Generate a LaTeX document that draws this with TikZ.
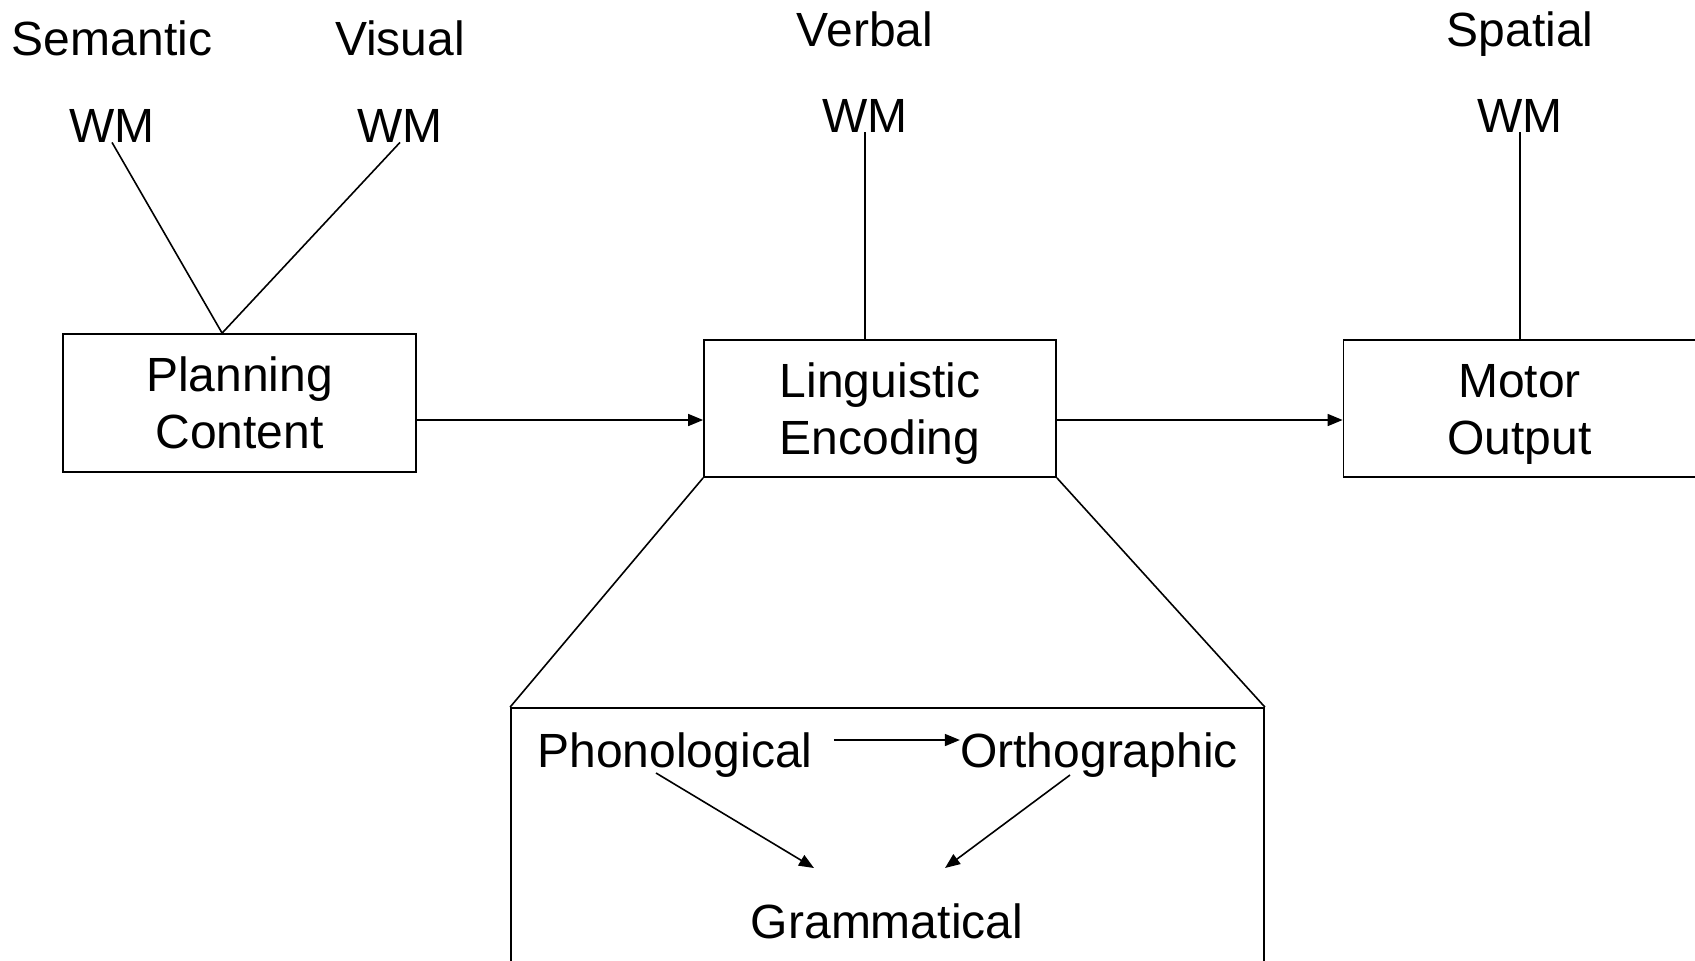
\documentclass[tikz,border=0pt]{standalone}
\usepackage{fontspec}
\setmainfont{Liberation Sans}
\usetikzlibrary{arrows.meta,calc}
\newcommand{\topgap}{\rule{0pt}{22pt}}
\begin{document}
\begin{tikzpicture}[x=0.5pt,y=-0.5pt,
  every node/.style={font=\fontsize{24}{28.5}\selectfont},
  lbl/.style={inner sep=0pt, anchor=base},
  box/.style={draw, line width=0.9pt, align=center, inner sep=0pt},
  conn/.style={line width=0.8pt},
  arr/.style={conn, -{Triangle[length=7.5pt,width=6pt]}}]
\useasboundingbox (0,0) rectangle (1695,960);
% labels
\node[lbl] (sem) at (112,55) {Semantic};
\node[lbl] (vis) at (400,55) {Visual};
\node[lbl] (swm) at (112,142) {WM};
\node[lbl] (viswm) at (400,142) {WM};
\node[lbl] (verb) at (865,46) {Verbal};
\node[lbl] (vwm) at (865,132) {WM};
\node[lbl] (spa) at (1520,46) {Spatial};
\node[lbl] (spwm) at (1520,132) {WM};
% boxes
\node[box, minimum width=176.5pt, minimum height=69pt] (plan) at (239.5,403) {Planning\\Content};
\node[box, minimum width=176pt, minimum height=68.5pt] (ling) at (880,408.5) {\topgap Linguistic\\Encoding};
\node[box, minimum width=176pt, minimum height=68.5pt] (mot) at (1519.5,408.5) {\topgap Motor\\Output};
\node[draw, line width=0.9pt, minimum width=376.5pt, minimum height=146pt] (det) at (887.5,854) {};
\node[lbl] (phon) at (675,767) {Phonological};
\node[lbl] (orth) at (1099,767) {Orthographic};
\node[lbl] (gram) at (887,938) {Grammatical};
\coordinate (pj) at ($(plan.north west)+(160,0)$);
% connectors
\draw[conn] (swm.south) -- (pj) -- (viswm.south);
\draw[conn] (vwm.south) -- (vwm.south |- ling.north);
\draw[conn] (spwm.south) -- (spwm.south |- mot.north);
\draw[arr] (plan.east |- 0,420) -- (ling.west |- 0,420);
\draw[arr] (ling.east |- 0,420) -- (mot.west |- 0,420);
\draw[conn] (ling.south west) -- (det.north west);
\draw[conn] (ling.south east) -- (det.north east);
\draw[arr] ([xshift=10.5pt,yshift=13.5pt]phon.base east) -- ([yshift=13.5pt]orth.base west);
\draw[arr] ($(phon.base)+(-19,6)$) -- ($(gram.base)+(-73,-70)$);
\draw[arr] ($(orth.base)+(-29,8)$) -- ($(gram.base)+(58,-70)$);
\end{tikzpicture}
\end{document}
